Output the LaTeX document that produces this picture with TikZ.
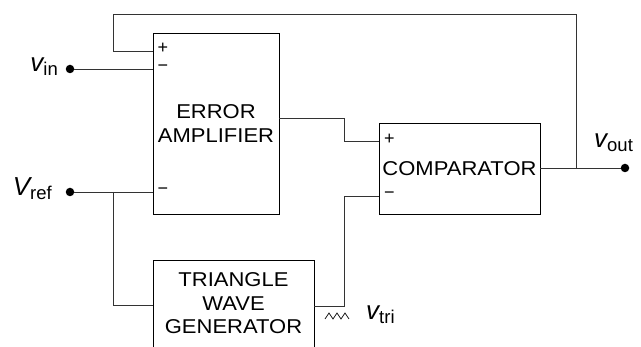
\documentclass[tikz,border=0pt]{standalone}
\usepackage{fontspec}
\setmainfont{Liberation Sans}
\newfontfamily\boxfont[FakeStretch=1.1]{Liberation Sans}
\newcommand{\sig}[2]{{\fontsize{26}{26}\selectfont\itshape #1}\raisebox{-3.5pt}{\fontsize{18.5}{18.5}\selectfont #2}}
\begin{document}
\begin{tikzpicture}[x=1pt,y=-1pt,
  wire/.style={line width=0.8pt, black!80},
  blk/.style={draw, line width=0.8pt, rectangle, inner sep=0pt, align=center, font=\boxfont\fontsize{20}{23.5}\selectfont},
  btext/.style={inner sep=0pt, align=center, font=\boxfont\fontsize{20}{23.5}\selectfont},
  dotc/.style={circle, fill, inner sep=0pt, minimum size=8.5pt},
  sign/.style={font=\fontsize{18}{18}\selectfont, inner sep=0pt, text height=0.6em, text depth=0pt},
  lbl/.style={inner sep=0pt}]
\clip (0,0) rectangle (641,347);
\fill[white] (0,0) rectangle (641,347);
% blocks
\node[blk, minimum width=126pt, minimum height=181pt] (ea) at (216,123.5) {ERROR\\AMPLIFIER};
\node[blk, minimum width=161pt, minimum height=91pt] (cmp) at (459.5,168.5) {COMPARATOR};
\node[blk, minimum width=161pt, minimum height=100pt] (tri) at (233.5,310) {};
\node[btext] (tritext) at (233.5,303.5) {TRIANGLE\\WAVE\\GENERATOR};
% signs
\node[sign] (eaplus) at (163,50.5) {+};
\node[sign] (eaminus1) at (163,69) {−};
\node[sign] (eaminus2) at (163,192) {−};
\node[sign] (cmpplus) at (389.5,142) {+};
\node[sign] (cmpminus) at (389.5,196) {−};
% terminals
\node[dotc] (vin) at (70,69) {};
\node[dotc] (vref) at (70,192) {};
\node[dotc] (vout) at (625,168) {};
% coordinates
\coordinate (eap) at (153,51);
\coordinate (eam1) at (153,69);
\coordinate (eam2) at (153,192);
\coordinate (eao) at (279,118);
\coordinate (cmpp) at (379,141);
\coordinate (cmpm) at (379,196);
\coordinate (cmpo) at (540,168);
\coordinate (fb) at (576,168);
\coordinate (br) at (113,192);
\coordinate (trii) at (153,305);
\coordinate (trio) at (314,306);
% wires
\draw[wire] (vin) -- (eam1);
\draw[wire] (vref) -- (eam2);
\draw[wire] (br) |- (trii);
\draw[wire] (cmpo) -- (vout);
\draw[wire] (fb) |- (113,14) |- (eap);
\draw[wire] (eao) -- (344,118) |- (cmpp);
\draw[wire] (trio) -- (344,306) |- (cmpm);
% triangle wave symbol
\draw[line width=0.7pt, black!90, line join=miter] (325,319) -- (329,313) -- (333,319) -- (337,313) -- (341,319) -- (345,313) -- (349,319);
% labels
\node[lbl, anchor=base east] (lin) at (58,72) {\sig{v}{in}};
\node[lbl, anchor=base east] (lref) at (52,196) {\sig{V}{ref}};
\node[lbl, anchor=base west] (lout) at (594,148) {\sig{v}{out}};
\node[lbl, anchor=base west] (ltri) at (366,320) {\sig{v}{tri}};
\end{tikzpicture}
\end{document}
